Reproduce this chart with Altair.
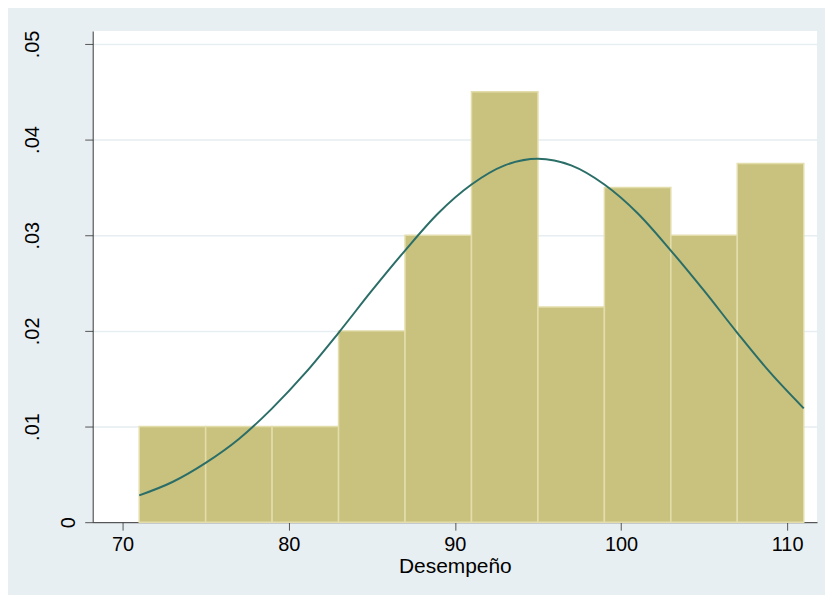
import altair as alt
import pandas as pd

# Histogram bins (Desempeño) and densities
bin_start = [71, 75, 79, 83, 87, 91, 95, 99, 103, 107]
bin_end = [75, 79, 83, 87, 91, 95, 99, 103, 107, 111]
density = [0.010, 0.010, 0.010, 0.020, 0.030, 0.045, 0.0225, 0.035, 0.030, 0.0375]

# Normal-density overlay, points
curve_x = [71, 73, 75, 77, 79, 81, 83, 85, 87, 89, 91, 93, 95,
           97, 99, 101, 103, 105, 107, 109, 111]
curve_y = [0.0028, 0.0042, 0.0062, 0.0087, 0.0119, 0.0156, 0.0198, 0.0242,
           0.0284, 0.0323, 0.0353, 0.0373, 0.0380, 0.0373, 0.0353, 0.0323,
           0.0284, 0.0242, 0.0198, 0.0156, 0.0119]

x_ticks = [70, 80, 90, 100, 110]
y_ticks = [0, 0.01, 0.02, 0.03, 0.04, 0.05]

bars_df = pd.DataFrame({"start": bin_start, "end": bin_end, "density": density,
                        "base": [0.0] * len(density)})
curve_df = pd.DataFrame({"x": curve_x, "y": curve_y})

FONT = "Liberation Sans"
x_scale = alt.Scale(domain=[68.2, 111.8], nice=False, zero=False)
y_scale = alt.Scale(domain=[0, 0.05135], nice=False, zero=False)

x_axis = alt.Axis(
    values=x_ticks, title="Desempeño", grid=False,
    labelFontSize=20, titleFontSize=21, labelFont=FONT, titleFont=FONT,
    labelColor="black", titleColor="black", titleFontWeight="normal",
    tickSize=8, tickColor="#555555", domainColor="#333333",
    labelPadding=4, titlePadding=1,
)
y_axis = alt.Axis(
    values=y_ticks, title=None, grid=True, gridColor="#e6eef1", gridWidth=1.5,
    labelExpr="datum.value == 0 ? '0' : substring(format(datum.value, '.2f'), 1)",
    labelAngle=-90, labelAlign="center", labelBaseline="bottom",
    labelFontSize=20, labelFont=FONT, labelColor="black",
    tickSize=8, tickColor="#555555", domainColor="#333333",
    labelPadding={"condition": {"test": "datum.value == 0", "value": 6}, "value": 42},
)

bars = alt.Chart(bars_df).mark_rect(
    color="#c9c27f", stroke="#e3ddab", strokeWidth=1.5
).encode(
    x=alt.X("start:Q", scale=x_scale, axis=x_axis),
    x2="end:Q",
    y=alt.Y("density:Q", scale=y_scale, axis=y_axis),
    y2="base:Q",
)

line = alt.Chart(curve_df).mark_line(
    color="#2b6e68", strokeWidth=2, interpolate="monotone"
).encode(
    x=alt.X("x:Q", scale=x_scale),
    y=alt.Y("y:Q", scale=y_scale),
)

chart = alt.layer(bars, line).properties(
    width=727, height=493,
    background="#e8eff2",
    padding={"left": 85, "top": 22, "right": 8, "bottom": 72},
    autosize=alt.AutoSizeParams(type="none"),
).configure_view(fill="white", stroke=None)

chart.save("out.html", embed_options={"renderer": "svg", "actions": False})
